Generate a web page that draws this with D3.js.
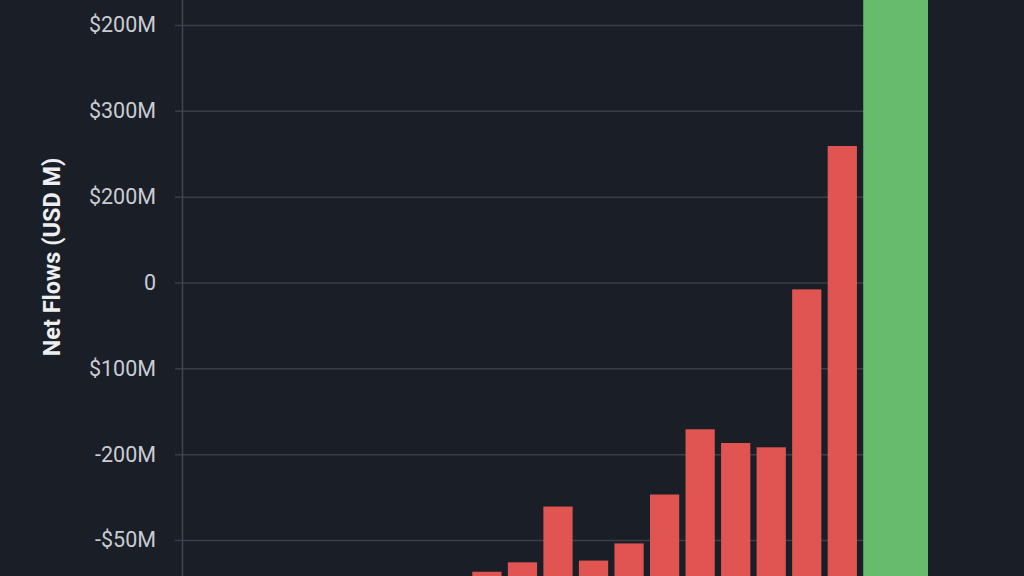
<!DOCTYPE html>
<html lang="en">
<head>
    <meta charset="UTF-8">
    <title>Net Flows</title>
    <script src="https://d3js.org/d3.v7.min.js"></script>
    <style>
        html, body {
            margin: 0;
            padding: 0;
            background: #1a1e27;
            overflow: hidden;
        }
        #chart svg {
            display: block;
        }
        .tick text {
            font-family: Roboto, "Noto Sans", sans-serif;
        }
    </style>
</head>
<body>
    <div id="chart"></div>

    <script>
    // tick positions (grid steps) and the labels printed next to them
    const tickSteps = [3, 2, 1, 0, -1, -2, -3];
    const tickLabels = ["$200M", "$300M", "$200M", "0", "$100M", "-200M", "-$50M"];

    // bar slots, values in grid steps
    const slots = d3.range(13);
    const outflows = [-3.37, -3.26, -2.61, -3.24, -3.04, -2.47, -1.71, -1.87, -1.92, -0.08, 1.59];
    const inflows = [3.6];   // last bar, takes two slots
    const baseValue = -4.2;  // bars rise from below the frame

    const width = 1024, height = 576;
    const margin = { top: 25, right: 96, bottom: 36, left: 182 };

    const svg = d3.select("#chart")
        .append("svg")
        .attr("width", width)
        .attr("height", height);

    // y scale in grid steps
    const y = d3.scaleLinear()
        .domain([-3, 3])
        .range([height - margin.bottom, margin.top]);

    // bars only occupy the right part of the plot
    const x = d3.scaleBand()
        .domain(slots)
        .range([472.3, width - margin.right])
        .paddingInner(0.177)
        .paddingOuter(0);

    // grid lines
    const yAxis = d3.axisLeft(y)
        .tickValues(tickSteps)
        .tickFormat((d, i) => tickLabels[i])
        .tickSize(-(width - margin.right - margin.left + 7))
        .tickPadding(26);

    const gY = svg.append("g")
        .attr("transform", `translate(${margin.left - 7},0)`)
        .call(yAxis);

    gY.select(".domain").remove();
    gY.selectAll(".tick line")
        .attr("stroke", "#3a3e48")
        .attr("stroke-width", 1.5);
    gY.selectAll(".tick text")
        .attr("fill", "#c9ccd3")
        .attr("font-size", 21.5)
        .attr("x", -19);

    // vertical axis line
    svg.append("line")
        .attr("x1", margin.left + 0.5)
        .attr("x2", margin.left + 0.5)
        .attr("y1", 0)
        .attr("y2", height)
        .attr("stroke", "#3f4450")
        .attr("stroke-width", 1.5);

    // red bars
    svg.selectAll("rect.out")
        .data(outflows)
        .enter()
        .append("rect")
        .attr("class", "out")
        .attr("x", (d, i) => x(slots[i]))
        .attr("width", x.bandwidth())
        .attr("y", d => y(d))
        .attr("height", d => y(baseValue) - y(d))
        .attr("fill", "#e05452");

    // green bar over the last two slots
    const gStart = x(slots[11]);
    const gEnd = x(slots[12]) + x.bandwidth();
    svg.selectAll("rect.in")
        .data(inflows)
        .enter()
        .append("rect")
        .attr("class", "in")
        .attr("x", gStart)
        .attr("width", gEnd - gStart)
        .attr("y", d => y(d))
        .attr("height", d => y(baseValue) - y(d))
        .attr("fill", "#66bc6c");

    // axis title
    svg.append("text")
        .attr("transform", `translate(60,257) rotate(-90)`)
        .attr("text-anchor", "middle")
        .attr("font-family", "Roboto, 'Noto Sans', sans-serif")
        .attr("font-weight", "bold")
        .attr("font-size", 23.5)
        .attr("fill", "#eceef1")
        .text("Net Flows (USD M)");
    </script>
</body>
</html>
